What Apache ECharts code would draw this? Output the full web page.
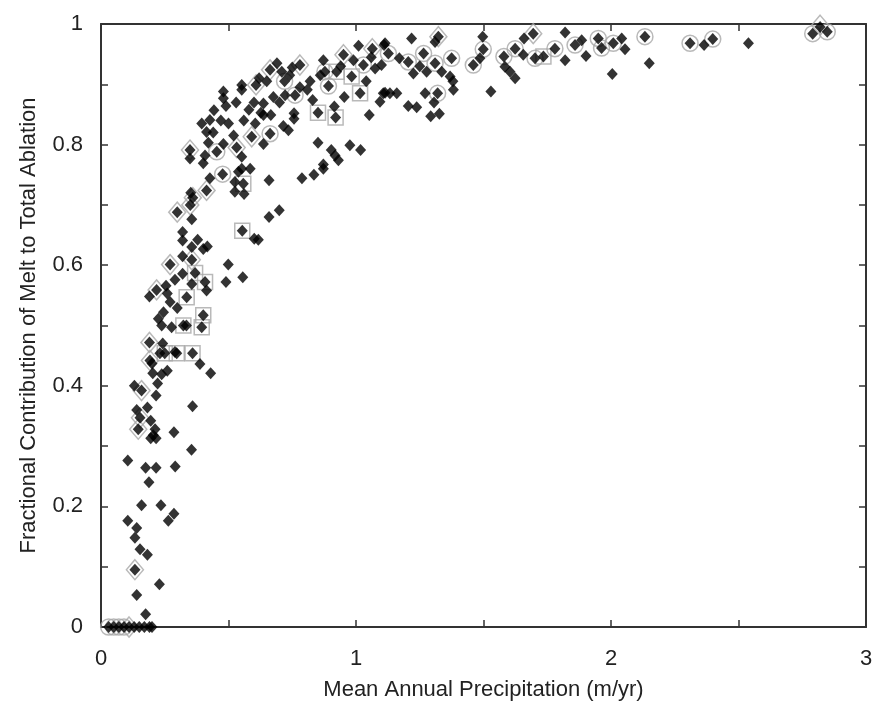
<!DOCTYPE html>
<html>
<head>
<meta charset="utf-8">
<script src="https://cdn.jsdelivr.net/npm/echarts@6/dist/echarts.min.js"></script>
<style>html,body{margin:0;padding:0;background:#fff}#c{width:876px;height:703px}</style>
</head>
<body>
<div id="c"></div>
<script>
// x: mean annual precipitation (m/yr), y: fractional contribution of melt
const xTickLabels = ['0', '1', '2', '3'];
const yTickLabels = ['0', '0.2', '0.4', '0.6', '0.8', '1'];

const meltPoints = [
  [0.03,0],[0.05,0],[0.07,0],[0.09,0],[0.11,0],[0.13,0],[0.15,0],[0.17,0],[0.19,0],[0.20,0],
  [0.175,0.021],[0.14,0.053],[0.229,0.071],[0.133,0.095],[0.182,0.12],[0.153,0.129],[0.133,0.148],
  [0.14,0.164],[0.105,0.176],[0.264,0.176],[0.286,0.188],[0.159,0.202],[0.235,0.202],[0.188,0.24],
  [0.175,0.264],[0.216,0.264],[0.291,0.266],[0.105,0.276],[0.355,0.294],
  [0.286,0.323],[0.195,0.313],[0.216,0.313],[0.205,0.318],[0.212,0.328],[0.146,0.328],[0.195,0.342],
  [0.153,0.347],[0.14,0.36],[0.182,0.364],[0.359,0.366],[0.216,0.384],[0.159,0.392],[0.131,0.4],
  [0.222,0.404],[0.203,0.421],[0.238,0.419],[0.26,0.425],[0.43,0.421],[0.388,0.436],[0.192,0.442],
  [0.2,0.437],[0.231,0.454],[0.25,0.454],[0.297,0.454],[0.359,0.454],[0.29,0.456],[0.242,0.47],[0.19,0.472],
  [0.238,0.5],[0.277,0.497],[0.323,0.5],[0.335,0.5],[0.395,0.497],[0.401,0.517],[0.225,0.511],
  [0.245,0.522],[0.299,0.529],[0.271,0.539],[0.336,0.547],[0.19,0.548],[0.26,0.553],[0.218,0.559],
  [0.255,0.566],[0.356,0.569],[0.414,0.558],[0.408,0.572],[0.49,0.572],[0.29,0.576],[0.556,0.58],
  [0.32,0.586],[0.369,0.587],[0.271,0.601],[0.499,0.601],[0.356,0.609],[0.32,0.615],[0.356,0.63],
  [0.401,0.627],[0.417,0.631],[0.32,0.641],[0.379,0.642],[0.601,0.644],[0.617,0.642],[0.32,0.655],
  [0.554,0.657],[0.659,0.68],[0.699,0.691],[0.299,0.688],[0.356,0.676],
  [0.35,0.70],[0.36,0.712],[0.352,0.72],[0.414,0.724],[0.525,0.722],[0.561,0.718],[0.525,0.738],
  [0.558,0.735],[0.427,0.744],[0.659,0.741],[0.788,0.744],[0.835,0.75],[0.477,0.751],[0.539,0.755],
  [0.552,0.76],[0.585,0.76],[0.872,0.76],[0.872,0.767],[0.931,0.774],[0.401,0.769],[0.552,0.78],
  [0.918,0.782],[0.408,0.782],[0.349,0.777],[0.454,0.788],[0.349,0.791],[0.532,0.795],[0.903,0.791],
  [1.018,0.791],[0.976,0.799],[0.48,0.801],[0.637,0.801],[0.421,0.803],[0.851,0.803],[0.591,0.813],
  [0.663,0.818],[0.414,0.821],[0.735,0.824],[0.715,0.831],[0.395,0.835],[0.427,0.841],[0.50,0.835],
  [0.56,0.84],[0.605,0.835],[0.627,0.853],[0.637,0.849],[0.666,0.849],[0.757,0.852],[0.757,0.843],
  [0.851,0.853],[0.92,0.845],[1.052,0.849],[0.443,0.857],[0.49,0.864],[0.915,0.863],[0.637,0.868],
  [0.83,0.874],[0.48,0.877],[0.676,0.879],[0.722,0.882],[0.761,0.882],[0.954,0.879],[1.016,0.885],
  [1.094,0.871],[0.48,0.888],[0.809,0.891],[1.114,0.886],[0.552,0.891],[0.552,0.899],[0.608,0.899],
  [0.892,0.897],[0.72,0.905],[0.878,0.921],[0.924,0.921],[0.983,0.913],[0.663,0.924],[0.709,0.921],
  [1.075,0.926],[0.78,0.932],[1.029,0.932],[0.872,0.94],[0.951,0.949],[1.064,0.959],[1.01,0.964],
  [1.11,0.965],
  [0.62,0.91],[0.69,0.935],[0.74,0.915],[0.70,0.87],[0.78,0.895],[0.82,0.905],[0.60,0.87],
  [0.58,0.858],[0.65,0.905],[0.75,0.928],[0.53,0.87],[0.47,0.84],[0.52,0.815],[0.44,0.82],
  [0.94,0.93],[0.99,0.94],[1.04,0.905],[1.06,0.945],[0.86,0.915],
  [1.218,0.976],[1.323,0.979],[1.31,0.97],[1.114,0.968],[1.127,0.951],[1.10,0.932],[1.17,0.943],
  [1.205,0.937],[1.225,0.918],[1.265,0.951],[1.25,0.93],[1.277,0.921],[1.31,0.935],[1.336,0.921],
  [1.375,0.943],[1.369,0.913],[1.38,0.905],[1.107,0.885],[1.133,0.885],[1.16,0.885],[1.205,0.864],
  [1.238,0.862],[1.271,0.885],[1.32,0.885],[1.306,0.87],[1.293,0.847],[1.327,0.851],[1.382,0.891],
  [1.497,0.979],[1.499,0.958],[1.486,0.943],[1.46,0.932],[1.529,0.888],[1.58,0.946],[1.584,0.929],
  [1.604,0.921],[1.624,0.91],[1.624,0.959],[1.659,0.976],[1.695,0.984],[1.656,0.949],[1.702,0.943],
  [1.735,0.946],[1.78,0.959],[1.82,0.986],[1.82,0.94],[1.859,0.965],[1.885,0.973],[1.902,0.947],
  [1.95,0.976],[1.963,0.96],[2.009,0.968],[2.042,0.976],[2.055,0.958],[2.005,0.917],[2.133,0.979],
  [2.15,0.935],[2.31,0.968],[2.365,0.965],[2.399,0.975],[2.539,0.968],[2.791,0.984],[2.848,0.987],
  [2.82,0.995]
];

const diamondRing = [
  [0.299,0.688],[0.271,0.601],[0.218,0.559],[0.19,0.472],[0.192,0.442],[0.159,0.392],[0.153,0.347],
  [0.146,0.328],[0.133,0.095],[0.356,0.609],[0.349,0.791],[0.414,0.724],[0.36,0.712],[0.35,0.70],
  [0.532,0.795],[0.591,0.813],[0.608,0.899],[0.663,0.924],[0.78,0.932],[1.064,0.959],[0.951,0.949],
  [1.323,0.979],[1.695,0.984],[2.82,0.998],[0.11,0]
];

const squareRing = [
  [0.554,0.657],[0.558,0.735],[0.851,0.853],[0.92,0.845],[1.016,0.885],[0.924,0.921],[0.983,0.913],
  [0.369,0.587],[0.408,0.572],[0.336,0.547],[0.323,0.5],[0.401,0.517],[0.395,0.497],[0.297,0.454],
  [0.359,0.454],[0.25,0.454],[1.735,0.946]
];

const circleRing = [
  [0.878,0.921],[1.029,0.932],[0.892,0.897],[0.761,0.882],[0.663,0.818],[0.454,0.788],[0.477,0.751],
  [0.72,0.905],[1.127,0.951],[1.205,0.937],[1.265,0.951],[1.31,0.935],[1.375,0.943],[1.32,0.885],
  [1.46,0.932],[1.499,0.958],[1.58,0.946],[1.624,0.959],[1.702,0.943],[1.78,0.959],[1.859,0.965],
  [1.95,0.976],[1.963,0.96],[2.009,0.968],[2.133,0.979],[2.31,0.968],[2.399,0.975],[2.791,0.984],
  [2.848,0.987],[0.03,0],[0.05,0],[0.07,0],[0.09,0]
];

const FONT = "'Liberation Sans', Arial, sans-serif";
const axisColor = '#333';
const ring = { color: 'rgba(0,0,0,0)', borderColor: '#a8a8a8', borderWidth: 1.5 };

const chart = echarts.init(document.getElementById('c'), null, { renderer: 'canvas' });
chart.setOption({
  animation: false,
  backgroundColor: '#fff',
  grid: { left: 101, right: 10, top: 24, bottom: 76, containLabel: false, outerBoundsMode: 'none' },
  xAxis: [
    {
      type: 'value', min: 0, max: 3, interval: 0.5, position: 'bottom',
      name: 'Mean Annual Precipitation (m/yr)', nameLocation: 'middle', nameGap: 52,
      nameTextStyle: { fontFamily: FONT, fontSize: 22, color: '#222' },
      axisLine: { show: true, onZero: false, lineStyle: { color: axisColor, width: 2 } },
      axisTick: { show: true, inside: true, length: 7, lineStyle: { color: axisColor, width: 1.5 } },
      axisLabel: {
        margin: 21, fontFamily: FONT, fontSize: 22, color: '#222', showMinLabel: true, showMaxLabel: true,
        formatter: v => { const i = xTickLabels.indexOf(String(Math.round(v * 100) / 100)); return i >= 0 ? xTickLabels[i] : ''; }
      },
      splitLine: { show: false }
    },
    {
      type: 'value', min: 0, max: 3, interval: 0.5, position: 'top',
      axisLine: { show: true, onZero: false, lineStyle: { color: axisColor, width: 2 } },
      axisTick: { show: true, inside: true, length: 7, lineStyle: { color: axisColor, width: 1.5 } },
      axisLabel: { show: false }, splitLine: { show: false }
    }
  ],
  yAxis: [
    {
      type: 'value', min: 0, max: 1, interval: 0.1, position: 'left',
      name: 'Fractional Contribution of Melt to Total Ablation', nameLocation: 'middle', nameGap: 61,
      nameRotate: 90,
      nameTextStyle: { fontFamily: FONT, fontSize: 22, color: '#222' },
      axisLine: { show: true, onZero: false, lineStyle: { color: axisColor, width: 2 } },
      axisTick: { show: true, inside: true, length: 7, lineStyle: { color: axisColor, width: 1.5 } },
      axisLabel: {
        margin: 18, fontFamily: FONT, fontSize: 22, color: '#222', showMinLabel: true, showMaxLabel: true,
        formatter: v => { const i = yTickLabels.indexOf(String(Math.round(v * 10) / 10)); return i >= 0 ? yTickLabels[i] : ''; }
      },
      splitLine: { show: false }
    },
    {
      type: 'value', min: 0, max: 1, interval: 0.1, position: 'right',
      axisLine: { show: true, onZero: false, lineStyle: { color: axisColor, width: 2 } },
      axisTick: { show: true, inside: true, length: 7, lineStyle: { color: axisColor, width: 1.5 } },
      axisLabel: { show: false }, splitLine: { show: false }
    }
  ],
  series: [
    { type: 'scatter', xAxisIndex: 0, yAxisIndex: 0, data: circleRing, symbol: 'circle', symbolSize: 16, itemStyle: ring, z: 2, clip: false },
    { type: 'scatter', xAxisIndex: 0, yAxisIndex: 0, data: squareRing, symbol: 'rect', symbolSize: 15, itemStyle: ring, z: 2, clip: false },
    { type: 'scatter', xAxisIndex: 0, yAxisIndex: 0, data: diamondRing, symbol: 'diamond', symbolSize: [17, 20], itemStyle: ring, z: 2, clip: false },
    { type: 'scatter', xAxisIndex: 0, yAxisIndex: 0, data: meltPoints, symbol: 'diamond', symbolSize: [11, 12], itemStyle: { color: '#000' }, z: 3, clip: false }
  ]
});
</script>
</body>
</html>
